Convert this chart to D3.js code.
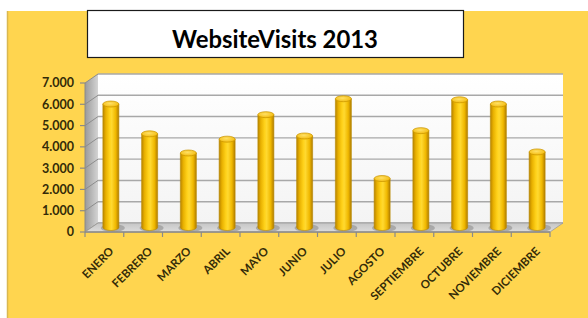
<!DOCTYPE html>
<html><head><meta charset="utf-8">
<script src="https://cdn.jsdelivr.net/npm/d3@7"></script>
<style>body{margin:0;background:#fff}svg{display:block}</style>
</head><body><svg id="c" width="588" height="318"></svg>
<script>
const title = "WebsiteVisits 2013";
const months = ["ENERO","FEBRERO","MARZO","ABRIL","MAYO","JUNIO","JULIO","AGOSTO","SEPTIEMBRE","OCTUBRE","NOVIEMBRE","DICIEMBRE"];
const visits = [5800,4400,3500,4150,5300,4300,6050,2300,4550,6000,5800,3550];
const yTicks = [0,1000,2000,3000,4000,5000,6000,7000];
const yTickLabels = ["0","1.000","2.000","3.000","4.000","5.000","6.000","7.000"];

const svg = d3.select("#c");
const defs = svg.append("defs");
const W=588,H=318;
// background
svg.append("rect").attr("x",7).attr("y",11).attr("width",W-7).attr("height",H-11).attr("fill","#FFD54F");
svg.append("line").attr("x1",7.5).attr("x2",7.5).attr("y1",11).attr("y2",H).attr("stroke","#d9b850").attr("stroke-width",1.5);

// title box
svg.append("rect").attr("x",87.5).attr("y",10.5).attr("width",376).attr("height",47).attr("fill","#fff").attr("stroke","#1a1a1a").attr("stroke-width",1.2);
const tt = svg.append("text").attr("x",275).attr("y",47.5).attr("text-anchor","middle")
  .attr("font-family","Lato, 'Open Sans', sans-serif").attr("font-weight","bold").attr("font-size",26).attr("fill","#000").text(title);
{ const w = tt.node().getComputedTextLength(); tt.attr("font-size", 26*206/w); }

// 3D geometry
const dx=13, dy=-9;
const x0=85, x1=550, yF0=232, yF7=83;
const x = d3.scaleBand().domain(months).range([x0,x1]).paddingInner(0).paddingOuter(0);
const yFront = d3.scaleLinear().domain([0,7000]).range([yF0,yF7]);
const yMid = v => yFront(v)+dy/2;
const yBack = v => yFront(v)+dy;

// side wall gradient
const gs = defs.append("linearGradient").attr("id","side").attr("x1",0).attr("x2",1).attr("y1",0).attr("y2",0);
gs.append("stop").attr("offset",0).attr("stop-color","#9a9a9a");
gs.append("stop").attr("offset",1).attr("stop-color","#d4d4d4");
svg.append("polygon").attr("points",[[x0,yF0],[x0+dx,yF0+dy],[x0+dx,yF7+dy],[x0,yF7]].join(" ")).attr("fill","url(#side)");
// back wall
const gw = defs.append("linearGradient").attr("id","wall").attr("x1",0).attr("x2",0).attr("y1",0).attr("y2",1);
gw.append("stop").attr("offset",0).attr("stop-color","#ffffff");
gw.append("stop").attr("offset",1).attr("stop-color","#f4f4f4");
svg.append("rect").attr("x",x0+dx).attr("y",yBack(7000)).attr("width",x1-x0).attr("height",yBack(0)-yBack(7000)).attr("fill","url(#wall)");
// gridlines
yTicks.forEach(t=>{
  svg.append("line").attr("x1",x0+dx).attr("x2",x1+dx).attr("y1",yBack(t)).attr("y2",yBack(t)).attr("stroke","#a8a8a8").attr("stroke-width",1.4);
  svg.append("line").attr("x1",x0).attr("x2",x0+dx).attr("y1",yFront(t)).attr("y2",yBack(t)).attr("stroke","#8c8c8c").attr("stroke-width",1);
});
// floor
const gf = defs.append("linearGradient").attr("id","floor").attr("x1",0).attr("x2",0).attr("y1",0).attr("y2",1);
gf.append("stop").attr("offset",0).attr("stop-color","#c6c6c6");
gf.append("stop").attr("offset",1).attr("stop-color","#dcdcdc");
svg.append("polygon").attr("points",[[x0,yF0],[x1,yF0],[x1+dx,yF0+dy],[x0+dx,yF0+dy]].join(" ")).attr("fill","url(#floor)").attr("stroke","#9a9a9a").attr("stroke-width",0.8);
// front axis
svg.append("line").attr("x1",x0).attr("x2",x1).attr("y1",yF0).attr("y2",yF0).attr("stroke","#8a8a8a").attr("stroke-width",1.5);
svg.append("line").attr("x1",x0).attr("x2",x0).attr("y1",yF0).attr("y2",yF7).attr("stroke","#8a8a8a").attr("stroke-width",1);
months.concat(["_end"]).forEach((m,i)=>{
  const xx = i<months.length ? x(m) : x1;
  svg.append("line").attr("x1",xx).attr("x2",xx).attr("y1",yF0).attr("y2",yF0+5).attr("stroke","#8a8a8a").attr("stroke-width",1.2);
});
yTicks.forEach(t=>{
  svg.append("line").attr("x1",x0-5).attr("x2",x0).attr("y1",yFront(t)).attr("y2",yFront(t)).attr("stroke","#8a8a8a").attr("stroke-width",1.2);
});

// bars (cylinders)
const gb = defs.append("linearGradient").attr("id","bar").attr("x1",0).attr("x2",1).attr("y1",0).attr("y2",0);
[[0,"#b88400"],[0.18,"#e8b000"],[0.42,"#ffd21a"],[0.55,"#ffd930"],[0.8,"#f0b800"],[1,"#b07c00"]].forEach(s=>gb.append("stop").attr("offset",s[0]).attr("stop-color",s[1]));
const gt = defs.append("radialGradient").attr("id","top").attr("cx",0.45).attr("cy",0.4).attr("r",0.7);
gt.append("stop").attr("offset",0).attr("stop-color","#ffe066");
gt.append("stop").attr("offset",1).attr("stop-color","#f2b600");
const bw = 16, ry = 3;
months.forEach((m,i)=>{
  const cx = x(m)+x.bandwidth()/2 + dx/2;
  const yb = yMid(0), yt = yMid(visits[i]);
  const g = svg.append("g");
  g.append("ellipse").attr("cx",cx+2).attr("cy",yb+0.5).attr("rx",bw/2+4).attr("ry",ry+1).attr("fill","#8e8e8e").attr("opacity",0.6);
  g.append("path").attr("d",`M${cx-bw/2},${yt} L${cx-bw/2},${yb} A${bw/2},${ry} 0 0 0 ${cx+bw/2},${yb} L${cx+bw/2},${yt} Z`)
    .attr("fill","url(#bar)").attr("stroke","#b98a00").attr("stroke-width",0.6);
  g.append("ellipse").attr("cx",cx).attr("cy",yt).attr("rx",bw/2).attr("ry",ry).attr("fill","url(#top)").attr("stroke","#c99400").attr("stroke-width",0.7);
});

// y labels
yTicks.forEach((t,i)=>{
  svg.append("text").attr("x",74).attr("y",yFront(t)).attr("dy","0.35em").attr("text-anchor","end")
    .attr("font-family","Lato, 'Open Sans', sans-serif").attr("font-weight","bold").attr("font-size",12.5).attr("fill","#332b08").text(yTickLabels[i]);
});
// x labels
months.forEach(m=>{
  const cx = x(m)+x.bandwidth()/2 + 10;
  svg.append("text").attr("transform",`translate(${cx},${yF0+20}) rotate(-45)`).attr("text-anchor","end")
    .attr("font-family","Lato, 'Open Sans', sans-serif").attr("font-weight","bold").attr("font-size",11.5).attr("fill","#332b08").text(m);
});
</script></body></html>
